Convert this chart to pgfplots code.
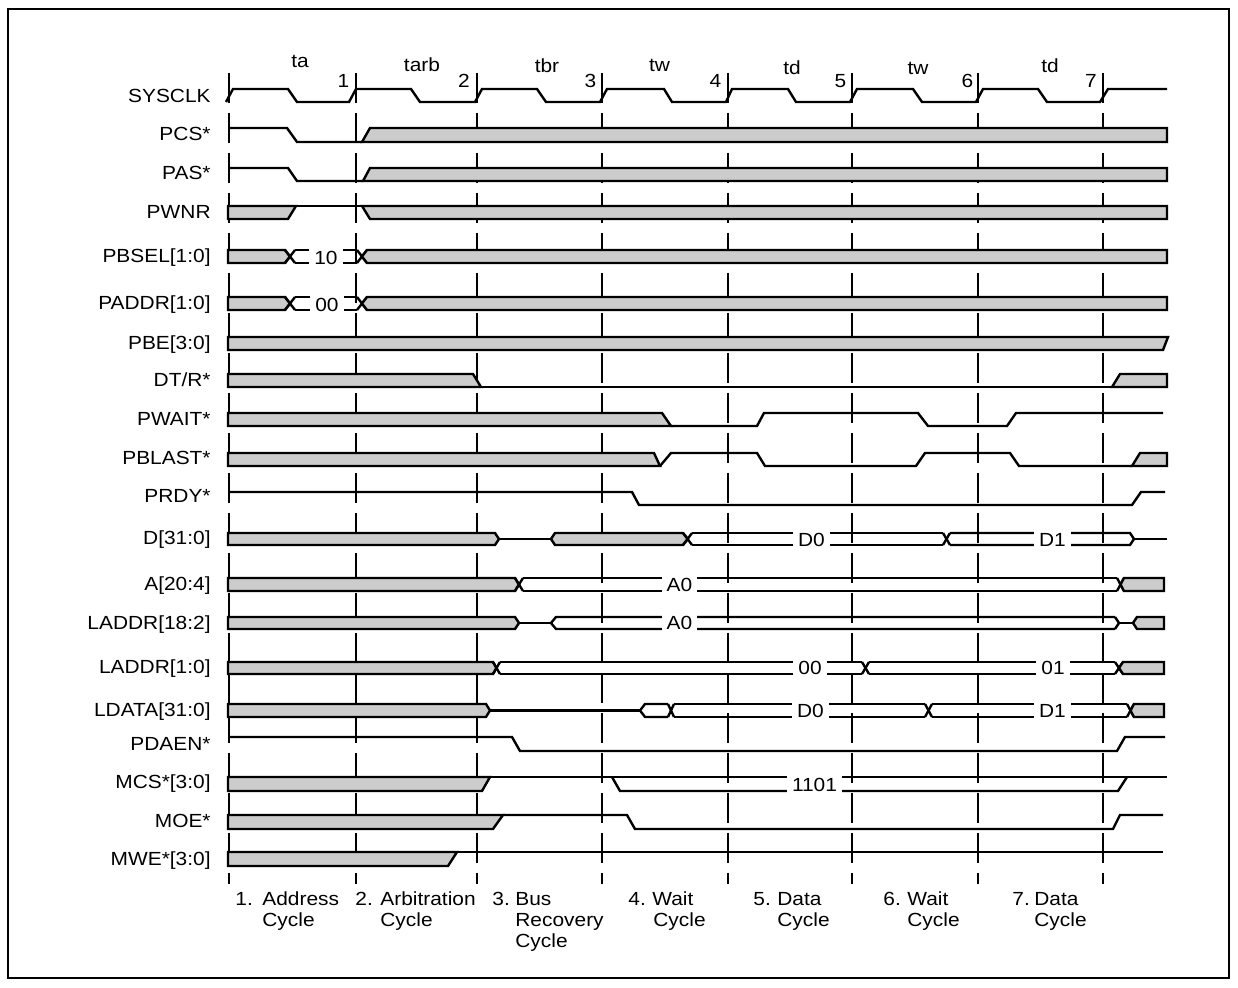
\documentclass[border=0pt]{standalone}
\usepackage{pgfplots}
\pgfplotsset{compat=1.18}
\usepackage{fontspec}
\setmainfont{Liberation Sans}[FakeStretch=1.1]
\definecolor{busgray}{HTML}{CCCCCC}
\pgfplotsset{
  sig/.style={black, line width=1.2pt, mark=none, line join=miter},
  bus/.style={black, line width=1.2pt, fill=busgray, mark=none, line join=miter},
  cyc/.style={black, line width=1pt, mark=none, dash pattern=on 15pt off 5pt},
}
\tikzset{
  lab/.style={inner sep=0pt, font=\fontsize{9.5pt}{11pt}\selectfont},
  blab/.style={inner xsep=2.5pt, inner ysep=1pt, fill=white, font=\fontsize{9.5pt}{11pt}\selectfont},
}
\begin{document}
\begin{tikzpicture}
\begin{axis}[
  width=619pt, height=494pt, scale only axis,
  xmin=0, xmax=1238, ymin=0, ymax=988, y dir=reverse,
  hide axis, clip=false,
]
% page extent and frame
\addplot[draw=none, mark=none] coordinates {(0,0) (1238,988)};
\addplot[black, line width=1pt, mark=none] coordinates {(8,9) (1229,9) (1229,978) (8,978)} -- cycle;

% cycle boundaries
\addplot[cyc] coordinates {(229,73) (229,884)};
\addplot[cyc] coordinates {(356,73) (356,884)};
\addplot[cyc] coordinates {(477,73) (477,884)};
\addplot[cyc] coordinates {(602,73) (602,884)};
\addplot[cyc] coordinates {(728,73) (728,884)};
\addplot[cyc] coordinates {(852,73) (852,884)};
\addplot[cyc] coordinates {(978,73) (978,884)};
\addplot[cyc] coordinates {(1103,73) (1103,884)};

% SYSCLK
\addplot[sig] coordinates {(226,102) (233,89) (288,89) (297,102) (349,102) (356,89) (411,89) (420,102) (475,102) (482,89) (537,89) (546,102) (600,102) (607,89) (664,89) (672,102) (726,102) (732,89) (788,89) (796,102) (850,102) (857,89) (913,89) (922,102) (976,102) (983,89) (1038,89) (1047,102) (1100,102) (1108,89) (1167,89)};

% PCS*
\addplot[sig] coordinates {(229,128) (287,128) (297,142) (362,142)};
\addplot[bus] coordinates {(362,142) (370,128) (1167,128) (1167,142)} -- cycle;

% PAS*
\addplot[sig] coordinates {(229,168) (288,168) (297,181) (363,181)};
\addplot[bus] coordinates {(363,181) (370,168) (1167,168) (1167,181)} -- cycle;

% PWNR
\addplot[bus] coordinates {(228,206) (296,206) (288,219) (228,219)} -- cycle;
\addplot[sig] coordinates {(296,206) (362,206)};
\addplot[bus] coordinates {(362,206) (1167,206) (1167,219) (370,219)} -- cycle;

% PBSEL[1:0]
\addplot[bus] coordinates {(228,250) (285,250) (290,256.5) (285,263) (228,263)} -- cycle;
\addplot[sig] coordinates {(285,250) (295,263)};
\addplot[sig] coordinates {(285,263) (295,250)};
\addplot[sig] coordinates {(295,250) (357,250)};
\addplot[sig] coordinates {(295,263) (357,263)};
\addplot[sig] coordinates {(357,250) (367,263)};
\addplot[sig] coordinates {(357,263) (367,250)};
\addplot[bus] coordinates {(367,250) (362,256.5) (367,263) (1167,263) (1167,250)} -- cycle;

% PADDR[1:0]
\addplot[bus] coordinates {(228,297) (285,297) (290,303.5) (285,310) (228,310)} -- cycle;
\addplot[sig] coordinates {(285,297) (295,310)};
\addplot[sig] coordinates {(285,310) (295,297)};
\addplot[sig] coordinates {(295,297) (357,297)};
\addplot[sig] coordinates {(295,310) (357,310)};
\addplot[sig] coordinates {(357,297) (367,310)};
\addplot[sig] coordinates {(357,310) (367,297)};
\addplot[bus] coordinates {(367,297) (362,303.5) (367,310) (1167,310) (1167,297)} -- cycle;

% PBE[3:0]
\addplot[bus] coordinates {(228,337) (1168,337) (1163,350) (228,350)} -- cycle;

% DT/R*
\addplot[bus] coordinates {(228,374) (473,374) (481,387) (228,387)} -- cycle;
\addplot[sig] coordinates {(481,387) (1112,387)};
\addplot[bus] coordinates {(1112,387) (1120,374) (1167,374) (1167,387)} -- cycle;

% PWAIT*
\addplot[bus] coordinates {(228,413) (662,413) (671,426) (228,426)} -- cycle;
\addplot[sig] coordinates {(671,426) (757,426) (764,413) (918,413) (928,426) (1007,426) (1016,413) (1163,413)};

% PBLAST*
\addplot[bus] coordinates {(228,453) (654,453) (660,466) (228,466)} -- cycle;
\addplot[sig] coordinates {(660,466) (671,453) (757,453) (765,466) (916,466) (925,453) (1010,453) (1019,466) (1132,466)};
\addplot[bus] coordinates {(1132,466) (1140,453) (1167,453) (1167,466)} -- cycle;

% PRDY*
\addplot[sig] coordinates {(229,492) (632,492) (639,505) (1132,505) (1141,492) (1165,492)};

% D[31:0]
\addplot[bus] coordinates {(228,533) (495,533) (499,539) (495,545) (228,545)} -- cycle;
\addplot[sig] coordinates {(499,539) (551,539)};
\addplot[bus] coordinates {(551,539) (555,533) (683,533) (688,539) (683,545) (555,545)} -- cycle;
\addplot[sig] coordinates {(683,533) (692,545)};
\addplot[sig] coordinates {(683,545) (692,533)};
\addplot[sig] coordinates {(692,533) (943,533)};
\addplot[sig] coordinates {(692,545) (943,545)};
\addplot[sig] coordinates {(943,533) (950,545)};
\addplot[sig] coordinates {(943,545) (950,533)};
\addplot[sig] coordinates {(950,533) (1130,533) (1134,539) (1130,545) (950,545)};
\addplot[sig] coordinates {(1134,539) (1167,539)};

% A[20:4]
\addplot[bus] coordinates {(228,578) (515,578) (519,584.5) (515,591) (228,591)} -- cycle;
\addplot[sig] coordinates {(515,578) (523,591)};
\addplot[sig] coordinates {(515,591) (523,578)};
\addplot[sig] coordinates {(523,578) (1117,578)};
\addplot[sig] coordinates {(523,591) (1117,591)};
\addplot[sig] coordinates {(1117,578) (1124,591)};
\addplot[sig] coordinates {(1117,591) (1124,578)};
\addplot[bus] coordinates {(1124,578) (1120.5,584.5) (1124,591) (1164,591) (1164,578)} -- cycle;

% LADDR[18:2]
\addplot[bus] coordinates {(228,617) (515,617) (519,623) (515,629) (228,629)} -- cycle;
\addplot[sig] coordinates {(519,623) (551,623)};
\addplot[sig] coordinates {(1115,617) (556,617) (551,623) (556,629) (1115,629)};
\addplot[sig] coordinates {(1115,617) (1119,623) (1115,629)};
\addplot[sig] coordinates {(1119,623) (1133,623)};
\addplot[bus] coordinates {(1133,623) (1137,617) (1164,617) (1164,629) (1137,629)} -- cycle;

% LADDR[1:0]
\addplot[bus] coordinates {(228,662) (493,662) (496.5,668) (493,674) (228,674)} -- cycle;
\addplot[sig] coordinates {(493,662) (500,674)};
\addplot[sig] coordinates {(493,674) (500,662)};
\addplot[sig] coordinates {(500,662) (862,662)};
\addplot[sig] coordinates {(500,674) (862,674)};
\addplot[sig] coordinates {(862,662) (869,674)};
\addplot[sig] coordinates {(862,674) (869,662)};
\addplot[sig] coordinates {(869,662) (1115,662)};
\addplot[sig] coordinates {(869,674) (1115,674)};
\addplot[sig] coordinates {(1115,662) (1123,674)};
\addplot[sig] coordinates {(1115,674) (1123,662)};
\addplot[bus] coordinates {(1123,662) (1119,668) (1123,674) (1164,674) (1164,662)} -- cycle;

% LDATA[31:0]
\addplot[bus] coordinates {(228,704) (486,704) (490,710.5) (486,717) (228,717)} -- cycle;
\addplot[sig] coordinates {(490,710.5) (640,710.5)};
\addplot[sig] coordinates {(668,704) (645,704) (640,710.5) (645,717) (668,717)};
\addplot[sig] coordinates {(668,704) (674,717)};
\addplot[sig] coordinates {(668,717) (674,704)};
\addplot[sig] coordinates {(674,704) (925,704)};
\addplot[sig] coordinates {(674,717) (925,717)};
\addplot[sig] coordinates {(925,704) (932,717)};
\addplot[sig] coordinates {(925,717) (932,704)};
\addplot[sig] coordinates {(932,704) (1127,704)};
\addplot[sig] coordinates {(932,717) (1127,717)};
\addplot[sig] coordinates {(1127,704) (1134,717)};
\addplot[sig] coordinates {(1127,717) (1134,704)};
\addplot[bus] coordinates {(1134,704) (1130.5,710.5) (1134,717) (1164,717) (1164,704)} -- cycle;

% PDAEN*
\addplot[sig] coordinates {(229,737) (512,737) (520,751) (1117,751) (1125,737) (1165,737)};

% MCS*[3:0]
\addplot[bus] coordinates {(228,777) (490,777) (482,791) (228,791)} -- cycle;
\addplot[sig] coordinates {(490,777) (1167,777)};
\addplot[sig] coordinates {(612,777) (620,791) (1118,791) (1127,777)};

% MOE*
\addplot[bus] coordinates {(228,815) (503,815) (493,829) (228,829)} -- cycle;
\addplot[sig] coordinates {(503,815) (627,815) (635,829) (1113,829) (1120,815) (1163,815)};

% MWE*[3:0]
\addplot[bus] coordinates {(228,852) (457,852) (448,866) (228,866)} -- cycle;
\addplot[sig] coordinates {(457,852) (1163,852)};

% ---------- text ----------
% signal names
\node[lab, anchor=base east] at (axis cs:211,103) {SYSCLK};
\node[lab, anchor=base east] at (axis cs:211,141) {PCS*};
\node[lab, anchor=base east] at (axis cs:211,180) {PAS*};
\node[lab, anchor=base east] at (axis cs:211,219) {PWNR};
\node[lab, anchor=base east] at (axis cs:211,263) {PBSEL[1:0]};
\node[lab, anchor=base east] at (axis cs:211,310) {PADDR[1:0]};
\node[lab, anchor=base east] at (axis cs:211,350) {PBE[3:0]};
\node[lab, anchor=base east] at (axis cs:211,387) {DT/R*};
\node[lab, anchor=base east] at (axis cs:211,426) {PWAIT*};
\node[lab, anchor=base east] at (axis cs:211,465) {PBLAST*};
\node[lab, anchor=base east] at (axis cs:211,503) {PRDY*};
\node[lab, anchor=base east] at (axis cs:211,545) {D[31:0]};
\node[lab, anchor=base east] at (axis cs:211,591) {A[20:4]};
\node[lab, anchor=base east] at (axis cs:211,630) {LADDR[18:2]};
\node[lab, anchor=base east] at (axis cs:211,674) {LADDR[1:0]};
\node[lab, anchor=base east] at (axis cs:211,717) {LDATA[31:0]};
\node[lab, anchor=base east] at (axis cs:211,751) {PDAEN*};
\node[lab, anchor=base east] at (axis cs:211,789) {MCS*[3:0]};
\node[lab, anchor=base east] at (axis cs:211,828) {MOE*};
\node[lab, anchor=base east] at (axis cs:211,866) {MWE*[3:0]};

% state names and clock numbers
\node[lab, anchor=base] at (axis cs:300,68) {ta};
\node[lab, anchor=base] at (axis cs:422,72) {tarb};
\node[lab, anchor=base] at (axis cs:547,73) {tbr};
\node[lab, anchor=base] at (axis cs:659.5,72) {tw};
\node[lab, anchor=base] at (axis cs:792,75) {td};
\node[lab, anchor=base] at (axis cs:918,75) {tw};
\node[lab, anchor=base] at (axis cs:1050,73) {td};
\node[lab, anchor=base] at (axis cs:343.5,88) {1};
\node[lab, anchor=base] at (axis cs:464,88) {2};
\node[lab, anchor=base] at (axis cs:590.5,88) {3};
\node[lab, anchor=base] at (axis cs:715.5,88) {4};
\node[lab, anchor=base] at (axis cs:840.5,88) {5};
\node[lab, anchor=base] at (axis cs:967.5,88) {6};
\node[lab, anchor=base] at (axis cs:1091,88) {7};

% bus values
\node[blab, anchor=base] at (axis cs:326,264.5) {10};
\node[blab, anchor=base] at (axis cs:327,311.5) {00};
\node[blab, anchor=base] at (axis cs:811.5,546.5) {D0};
\node[blab, anchor=base] at (axis cs:1052.5,546.5) {D1};
\node[blab, anchor=base] at (axis cs:679.5,592) {A0};
\node[blab, anchor=base] at (axis cs:679.5,630) {A0};
\node[blab, anchor=base] at (axis cs:810,675) {00};
\node[blab, anchor=base] at (axis cs:1053,675) {01};
\node[blab, anchor=base] at (axis cs:810.5,718) {D0};
\node[blab, anchor=base] at (axis cs:1052.5,718) {D1};
\node[blab, anchor=base] at (axis cs:814.5,791.5) {1101};

% cycle descriptions
\node[lab, anchor=base west] at (axis cs:235,906) {1.};
\node[lab, anchor=base west] at (axis cs:262,906) {Address};
\node[lab, anchor=base west] at (axis cs:262,927) {Cycle};
\node[lab, anchor=base west] at (axis cs:355,906) {2.};
\node[lab, anchor=base west] at (axis cs:380,906) {Arbitration};
\node[lab, anchor=base west] at (axis cs:380,927) {Cycle};
\node[lab, anchor=base west] at (axis cs:492,906) {3.};
\node[lab, anchor=base west] at (axis cs:515,906) {Bus};
\node[lab, anchor=base west] at (axis cs:515,927) {Recovery};
\node[lab, anchor=base west] at (axis cs:515,948) {Cycle};
\node[lab, anchor=base west] at (axis cs:628,906) {4.};
\node[lab, anchor=base west] at (axis cs:652,906) {Wait};
\node[lab, anchor=base west] at (axis cs:653,927) {Cycle};
\node[lab, anchor=base west] at (axis cs:753,906) {5.};
\node[lab, anchor=base west] at (axis cs:777,906) {Data};
\node[lab, anchor=base west] at (axis cs:777,927) {Cycle};
\node[lab, anchor=base west] at (axis cs:883,906) {6.};
\node[lab, anchor=base west] at (axis cs:907,906) {Wait};
\node[lab, anchor=base west] at (axis cs:907,927) {Cycle};
\node[lab, anchor=base west] at (axis cs:1012,906) {7.};
\node[lab, anchor=base west] at (axis cs:1034,906) {Data};
\node[lab, anchor=base west] at (axis cs:1034,927) {Cycle};
\end{axis}
\end{tikzpicture}
\end{document}
